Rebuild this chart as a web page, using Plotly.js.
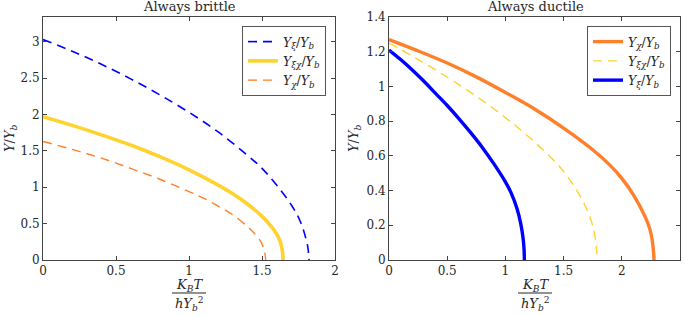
<!DOCTYPE html>
<html>
<head>
<meta charset="utf-8">
<script src="https://cdn.plot.ly/plotly-3.0.1.min.js"></script>
<style>html,body{margin:0;padding:0;background:#fff;}#chart{width:685px;height:317px;}</style>
</head>
<body>
<div id="chart"></div>
<script>
// ---- Data ----
// Left panel: "Always brittle"
const brittleXiX  = [0, 0.2, 0.4, 0.6, 0.8, 1.0, 1.2, 1.4, 1.5, 1.6, 1.7, 1.76, 1.80, 1.815, 1.822];
const brittleXiY  = [3.03, 2.87, 2.69, 2.49, 2.27, 2.03, 1.76, 1.44, 1.26, 1.03, 0.76, 0.54, 0.30, 0.16, 0];
const brittleXiChiX = [0, 0.2, 0.4, 0.6, 0.8, 1.0, 1.2, 1.3, 1.4, 1.5, 1.56, 1.6, 1.625, 1.64, 1.644];
const brittleXiChiY = [1.97, 1.85, 1.72, 1.58, 1.42, 1.24, 1.03, 0.91, 0.77, 0.60, 0.47, 0.36, 0.25, 0.12, 0];
const brittleChiX = [0, 0.2, 0.4, 0.6, 0.8, 1.0, 1.1, 1.2, 1.3, 1.4, 1.45, 1.49, 1.51, 1.52, 1.525];
const brittleChiY = [1.63, 1.52, 1.40, 1.26, 1.11, 0.94, 0.85, 0.74, 0.62, 0.46, 0.36, 0.26, 0.17, 0.09, 0];

// Right panel: "Always ductile"
const ductileChiX = [0, 0.25, 0.5, 0.75, 1.0, 1.25, 1.5, 1.75, 1.9, 2.0, 2.1, 2.2, 2.24, 2.26, 2.272, 2.277];
const ductileChiY = [1.27, 1.205, 1.135, 1.055, 0.965, 0.87, 0.76, 0.635, 0.545, 0.47, 0.375, 0.25, 0.18, 0.12, 0.05, 0];
const ductileXiChiX = [0, 0.2, 0.4, 0.6, 0.8, 1.0, 1.2, 1.4, 1.5, 1.6, 1.68, 1.73, 1.76, 1.777, 1.785, 1.787];
const ductileXiChiY = [1.25, 1.175, 1.095, 1.01, 0.92, 0.82, 0.71, 0.585, 0.51, 0.415, 0.32, 0.24, 0.17, 0.10, 0.04, 0];
const ductileXiX  = [0, 0.1, 0.2, 0.3, 0.4, 0.5, 0.6, 0.7, 0.8, 0.9, 1.0, 1.05, 1.1, 1.13, 1.15, 1.16, 1.163];
const ductileXiY  = [1.21, 1.155, 1.095, 1.03, 0.96, 0.89, 0.815, 0.735, 0.65, 0.555, 0.45, 0.385, 0.295, 0.215, 0.135, 0.065, 0];

const labelXi    = '<i>Y</i><sub><i>ξ</i></sub>/<i>Y</i><sub><i>b</i></sub>';
const labelXiChi = '<i>Y</i><sub><i>ξχ</i></sub>/<i>Y</i><sub><i>b</i></sub>';
const labelChi   = '<i>Y</i><sub><i>χ</i></sub>/<i>Y</i><sub><i>b</i></sub>';

const leftTicksX = [0, 0.5, 1, 1.5, 2];
const leftTicksY = [0, 0.5, 1, 1.5, 2, 2.5, 3];
const rightTicksX = [0, 0.5, 1, 1.5, 2, 2.5];
const rightTicksY = [0, 0.2, 0.4, 0.6, 0.8, 1, 1.2, 1.4];

// ---- Styling ----
const BLUE = '#0000ff', YELLOW = '#ffd22e', ORANGE = '#ff7f2a';
const FONT = 'DejaVu Serif';
const DASH = '9px,6px';
const TXT = '#262626';

function line(color, width, dash) {
  const l = {color: color, width: width, shape: 'spline', smoothing: 1};
  if (dash) l.dash = dash;
  return l;
}

const traces = [
  {x: brittleXiX, y: brittleXiY, name: labelXi, xaxis: 'x', yaxis: 'y', legend: 'legend',
   mode: 'lines', line: line(BLUE, 1.6, DASH)},
  {x: brittleXiChiX, y: brittleXiChiY, name: labelXiChi, xaxis: 'x', yaxis: 'y', legend: 'legend',
   mode: 'lines', line: line(YELLOW, 3.6)},
  {x: brittleChiX, y: brittleChiY, name: labelChi, xaxis: 'x', yaxis: 'y', legend: 'legend',
   mode: 'lines', line: line(ORANGE, 1.4, DASH)},
  {x: ductileChiX, y: ductileChiY, name: labelChi, xaxis: 'x2', yaxis: 'y2', legend: 'legend2',
   mode: 'lines', line: line(ORANGE, 3.4)},
  {x: ductileXiChiX, y: ductileXiChiY, name: labelXiChi, xaxis: 'x2', yaxis: 'y2', legend: 'legend2',
   mode: 'lines', line: line(YELLOW, 1.4, DASH)},
  {x: ductileXiX, y: ductileXiY, name: labelXi, xaxis: 'x2', yaxis: 'y2', legend: 'legend2',
   mode: 'lines', line: line(BLUE, 3.4)}
];

const W = 685, H = 317;
const px = v => v / W;
const py = v => (H - v) / H;

function axisBase(range, ticks, domain, anchor) {
  return {
    range: range, domain: domain, anchor: anchor,
    tickmode: 'array', tickvals: ticks,
    ticks: 'inside', ticklen: 4, tickwidth: 1, tickcolor: '#444',
    showline: true, linecolor: '#444', linewidth: 1, mirror: 'ticks',
    showgrid: false, zeroline: false,
    tickfont: {family: FONT, size: 12, color: TXT},
    fixedrange: true
  };
}

const yDomain = [py(260), py(17)];

function ann(text, x, y, size, extra) {
  return Object.assign({text: text, x: px(x), y: py(y), xref: 'paper', yref: 'paper', showarrow: false,
    xanchor: 'center', yanchor: 'middle', font: {family: FONT, size: size, color: TXT}}, extra || {});
}

const legendStyle = {
  bgcolor: '#fff', bordercolor: '#555', borderwidth: 1,
  font: {family: FONT, size: 12.5, color: TXT},
  tracegroupgap: 0, itemwidth: 30, traceorder: 'normal',
  xanchor: 'right', yanchor: 'top'
};

const layout = {
  width: W, height: H,
  margin: {l: 0, r: 0, t: 0, b: 0},
  paper_bgcolor: '#fff', plot_bgcolor: '#fff',
  showlegend: true,
  xaxis: axisBase([0, 2], leftTicksX, [px(43), px(335)], 'y'),
  yaxis: axisBase([0, 3.34], leftTicksY, yDomain, 'x'),
  xaxis2: axisBase([0, 2.5], rightTicksX, [px(389), px(680)], 'y2'),
  yaxis2: axisBase([0, 1.4], rightTicksY, yDomain, 'x2'),
  legend: Object.assign({x: px(326), y: py(26)}, legendStyle),
  legend2: Object.assign({x: px(671), y: py(26)}, legendStyle),
  annotations: [
    ann('Always brittle', 189, 7, 13),
    ann('Always ductile', 535, 7, 13),
    ann('<i>Y</i>/<i>Y</i><sub><i>b</i></sub>', 10, 138, 13, {textangle: -90}),
    ann('<i>Y</i>/<i>Y</i><sub><i>b</i></sub>', 354, 138, 13, {textangle: -90}),
    ann('<i>K</i><sub><i>B</i></sub><i>T</i>', 189, 285, 13),
    ann('<i>hY</i><sub><i>b</i></sub><sup>2</sup>', 189, 304, 13),
    ann('<i>K</i><sub><i>B</i></sub><i>T</i>', 535, 285, 13),
    ann('<i>hY</i><sub><i>b</i></sub><sup>2</sup>', 535, 304, 13)
  ],
  shapes: [
    {type: 'line', xref: 'paper', yref: 'paper', x0: px(172), x1: px(206), y0: py(293), y1: py(293),
     line: {color: TXT, width: 1}},
    {type: 'line', xref: 'paper', yref: 'paper', x0: px(518), x1: px(552), y0: py(293), y1: py(293),
     line: {color: TXT, width: 1}}
  ]
};

Plotly.newPlot('chart', traces, layout, {displayModeBar: false, staticPlot: true});
</script>
</body>
</html>
